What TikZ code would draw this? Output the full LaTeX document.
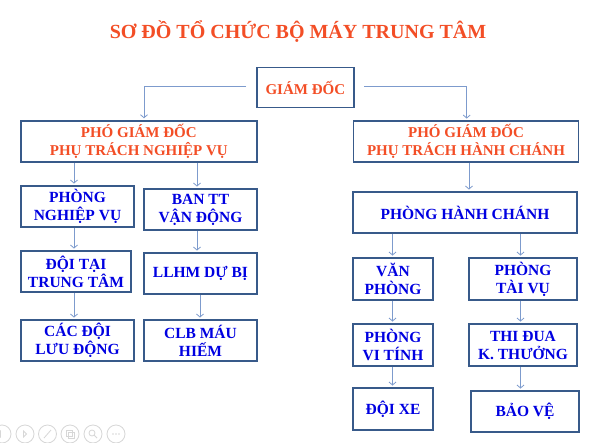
\documentclass[tikz,border=0pt]{standalone}
\usepackage{fontspec}
\setmainfont{Liberation Serif}
\usetikzlibrary{arrows.meta}
\definecolor{titlered}{RGB}{243,78,38}
\definecolor{boxblue}{RGB}{0,0,225}
\definecolor{boxline}{RGB}{56,90,138}
\definecolor{arrowc}{RGB}{125,155,205}
\definecolor{iconc}{RGB}{215,215,215}
\tikzset{
  box/.style={draw=boxline, line width=1.9pt, fill=white, align=center, inner sep=0pt,
    font=\bfseries\fontsize{15}{17.5}\selectfont},
  redbox/.style={box, text=titlered},
  bluebox/.style={box, text=boxblue, font=\bfseries\fontsize{15.5}{18}\selectfont},
  arr/.style={draw=arrowc, line width=0.8pt, -{Straight Barb[length=3pt,width=7pt]}, shorten >=1.5pt},
  ln/.style={draw=arrowc, line width=0.8pt},
  icon/.style={draw=iconc, line width=0.8pt}
}
\begin{document}
\begin{tikzpicture}[x=1pt,y=-1pt]
\useasboundingbox (0,0) rectangle (600,442);
\fill[white] (0,0) rectangle (600,442);

\node[text=titlered, font=\bfseries\fontsize{20}{24}\selectfont] (title) at (298,32) {SƠ ĐỒ TỔ CHỨC BỘ MÁY TRUNG TÂM};

% top
\node[redbox, minimum width=97pt, minimum height=40pt] (gd) at (305.3,87.5) {GIÁM ĐỐC};

% deputies
\node[redbox, minimum width=236pt, minimum height=41pt] (pl) at (138.8,141.2) {PHÓ GIÁM ĐỐC\\PHỤ TRÁCH NGHIỆP VỤ};
\node[redbox, minimum width=225pt, minimum height=41pt] (pr) at (466,141.5) {PHÓ GIÁM ĐỐC\\PHỤ TRÁCH HÀNH CHÁNH};

% left column
\node[bluebox, minimum width=113pt, minimum height=41pt] (pnv) at (77.5,206.5) {PHÒNG\\NGHIỆP VỤ};
\node[bluebox, minimum width=113pt, minimum height=41pt] (btt) at (200.5,209.5) {BAN TT\\VẬN ĐỘNG};
\node[bluebox, minimum width=110pt, minimum height=41pt] (dtt) at (76,271.5) {ĐỘI TẠI\\TRUNG TÂM};
\node[bluebox, minimum width=113pt, minimum height=41pt] (llhm) at (200.5,273.5) {LLHM DỰ BỊ};
\node[bluebox, minimum width=113pt, minimum height=41pt] (cdld) at (77.5,340.5) {CÁC ĐỘI\\LƯU ĐỘNG};
\node[bluebox, minimum width=113pt, minimum height=41pt] (clb) at (200.5,340.5) {CLB MÁU\\HIẾM};

% right column
\node[bluebox, minimum width=224pt, minimum height=41pt] (phc) at (465,212.5) {PHÒNG HÀNH CHÁNH};
\node[bluebox, minimum width=80pt, minimum height=42pt] (vp) at (393,279) {VĂN\\PHÒNG};
\node[bluebox, minimum width=108pt, minimum height=42pt] (ptv) at (523,279) {PHÒNG\\TÀI VỤ};
\node[bluebox, minimum width=80pt, minimum height=42pt] (pvt) at (393,345) {PHÒNG\\VI TÍNH};
\node[bluebox, minimum width=108pt, minimum height=42pt] (td) at (523,345) {THI ĐUA\\K. THƯỞNG};
\node[bluebox, minimum width=80pt, minimum height=42pt] (dx) at (393,409) {ĐỘI XE};
\node[bluebox, minimum width=108pt, minimum height=41pt] (bv) at (525,411.5) {BẢO VỆ};

% connector coordinates
\coordinate (gl) at (246,86.7);
\coordinate (gr) at (364,86.7);
\coordinate (cl) at (144,86.7);
\coordinate (cr) at (466.7,86.7);
\coordinate (xa) at (74,0);
\coordinate (xb) at (197,0);
\coordinate (xc) at (200,0);
\coordinate (xd) at (469,0);
\coordinate (xe) at (392.5,0);
\coordinate (xf) at (520.5,0);

\draw[ln] (gl) -- (cl);
\draw[arr] (cl) -- (pl.north -| cl);
\draw[ln] (gr) -- (cr);
\draw[arr] (cr) -- (pr.north -| cr);

\draw[arr] (pl.south -| xa) -- (pnv.north -| xa);
\draw[arr] (pl.south -| xb) -- (btt.north -| xb);
\draw[arr] (pnv.south -| xa) -- (dtt.north -| xa);
\draw[arr] (btt.south -| xb) -- (llhm.north -| xb);
\draw[arr] (dtt.south -| xa) -- (cdld.north -| xa);
\draw[arr] (llhm.south -| xc) -- (clb.north -| xc);

\draw[arr] (pr.south -| xd) -- (phc.north -| xd);
\draw[arr] (phc.south -| xe) -- (vp.north -| xe);
\draw[arr] (phc.south -| xf) -- (ptv.north -| xf);
\draw[arr] (vp.south -| xe) -- (pvt.north -| xe);
\draw[arr] (ptv.south -| xf) -- (td.north -| xf);
\draw[arr] (pvt.south -| xe) -- (dx.north -| xe);
\draw[arr] (td.south -| xf) -- (bv.north -| xf);

% faint slideshow controls
\draw[icon] (2,434) circle (9);
\draw[icon] (0.5,431) -- (-2.5,434) -- (0.5,437) -- cycle;
\draw[icon] (25,434) circle (9);
\draw[icon] (23.5,431) -- (26.5,434) -- (23.5,437) -- cycle;
\draw[icon] (47.5,434) circle (9);
\draw[icon] (44,438) -- (51,430);
\draw[icon] (70,434) circle (9);
\draw[icon] (66,430) rectangle (72,436);
\draw[icon] (68,432) rectangle (74,438);
\draw[icon] (93,434) circle (9);
\draw[icon] (92,433) circle (3);
\draw[icon] (94,435) -- (97,438);
\draw[icon] (116,434) circle (9);
\fill[iconc] (113,434) circle (0.9) (116,434) circle (0.9) (119,434) circle (0.9);
\end{tikzpicture}
\end{document}
